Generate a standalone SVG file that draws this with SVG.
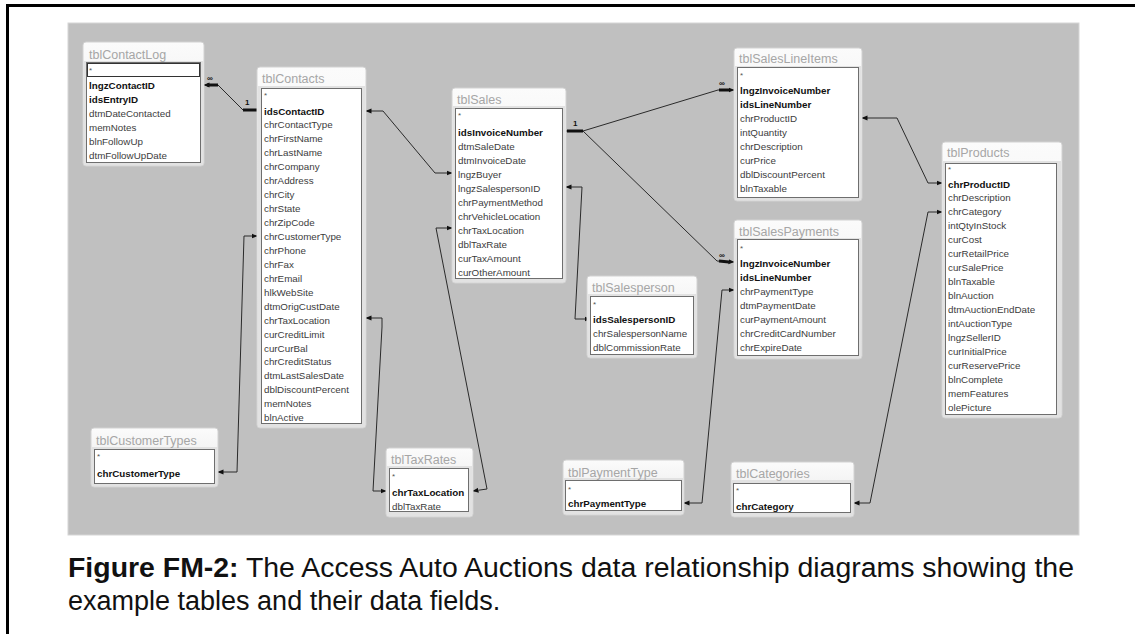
<svg xmlns="http://www.w3.org/2000/svg" width="1135" height="634" viewBox="0 0 1135 634">
  <defs>
    <linearGradient id="titleGrad" x1="0" y1="0" x2="0" y2="1">
      <stop offset="0" stop-color="#fbfbfb"/>
      <stop offset="1" stop-color="#e6e6e6"/>
    </linearGradient>
    <marker id="tip" viewBox="0 0 6 6" refX="5.5" refY="3" markerWidth="6" markerHeight="6" markerUnits="userSpaceOnUse" orient="auto-start-reverse">
      <path d="M0,0.5 L6,3 L0,5.5 Z" fill="#111"/>
    </marker>
    <style>
      .outer { fill: url(#titleGrad); stroke: #d2d2d2; stroke-width: 1; }
      .body { fill: #e2e2e2; }
      .list { fill: #ffffff; stroke: #6e6e6e; stroke-width: 1; }
      .sel { fill: none; stroke: #333; stroke-width: 1; }
      .title { font-family: "Liberation Sans", Arial, sans-serif; font-size: 12.5px; fill: #a6a6a6; }
      .f { font-family: "Liberation Sans", Arial, sans-serif; font-size: 9.8px; fill: #3c3c3c; }
      .k { font-weight: bold; fill: #111; }
      .star { font-family: "Liberation Sans", Arial, sans-serif; font-size: 8px; fill: #555; }
      .conn { fill: none; stroke: #2a2a2a; stroke-width: 1; }
      .ends { marker-start: url(#tip); marker-end: url(#tip); }
      .bar { fill: none; stroke: #111; stroke-width: 3; }
      .card { font-family: "Liberation Sans", Arial, sans-serif; font-size: 8px; font-weight: bold; fill: #111; }
      .cap { font-family: "Liberation Sans", Arial, sans-serif; font-size: 27px; fill: #111; }
    </style>
  </defs>

  <!-- page frame -->
  <rect x="0" y="0" width="1135" height="634" fill="#ffffff"/>
  <rect x="6" y="4" width="1129" height="3" fill="#000"/>
  <rect x="6" y="4" width="3" height="630" fill="#000"/>

  <!-- relationship window background -->
  <rect x="68" y="23" width="1011" height="512" fill="#c0c0c0" stroke="#d6d6d6" stroke-width="1"/>

  <!-- relationships -->
  <g id="connectors">
    <!-- tblContacts.idsContactID -> tblContactLog.lngzContactID -->
    <path class="conn" d="M257,110 L243,110 L218,85 L204,85" marker-end="url(#tip)"/>
    <path class="bar" d="M243,110 L257,110"/>
    <path class="bar" d="M207,85 L218,85"/>
    <text class="card" x="245" y="105">1</text>
    <text class="card" x="207" y="81">∞</text>

    <!-- tblContacts.idsContactID -> tblSales.lngzBuyer -->
    <path class="conn ends" d="M366,111 L383,111 L435,173 L452,173"/>

    <!-- tblContacts.chrCustomerType -> tblCustomerTypes.chrCustomerType -->
    <path class="conn ends" d="M257,236 L244,236 L237,472 L218,472"/>

    <!-- tblContacts.chrTaxLocation -> tblTaxRates.chrTaxLocation -->
    <path class="conn ends" d="M366,318 L382,318 L382,327 L373,491 L386,491"/>

    <!-- tblSales.chrTaxLocation -> tblTaxRates.chrTaxLocation -->
    <path class="conn ends" d="M452,228 L436,228 L487,489 L473,491"/>

    <!-- tblSales.idsInvoiceNumber -> tblSalesLineItems.lngzInvoiceNumber -->
    <path class="conn" d="M566,131 L583,131 L718,90 L734,90" marker-end="url(#tip)"/>
    <!-- tblSales.idsInvoiceNumber -> tblSalesPayments.lngzInvoiceNumber -->
    <path class="conn" d="M583,131 L717,261 L734,262" marker-end="url(#tip)"/>
    <path class="bar" d="M567,131 L583,131"/>
    <path class="bar" d="M719,90 L729,90"/>
    <path class="bar" d="M719,261 L729,262"/>
    <text class="card" x="573" y="126">1</text>
    <text class="card" x="719" y="86">∞</text>
    <text class="card" x="719" y="258">∞</text>

    <!-- tblSales.lngzSalespersonID -> tblSalesperson.idsSalespersonID -->
    <path class="conn ends" d="M566,187 L582,187 L575,319 L590,319"/>

    <!-- tblSalesLineItems.chrProductID -> tblProducts.chrProductID -->
    <path class="conn ends" d="M862,118 L897,118 L928,183 L942,183"/>

    <!-- tblProducts.chrCategory -> tblCategories.chrCategory -->
    <path class="conn ends" d="M942,212 L928,212 L870,503 L854,503"/>

    <!-- tblSalesPayments.chrPaymentType -> tblPaymentType.chrPaymentType -->
    <path class="conn ends" d="M734,290 L722,290 L702,503 L684,503"/>
  </g>

  <!-- tables -->
  <g id="tblContactLog">
    <rect class="outer" x="83" y="42" width="121" height="124" rx="3"/>
    <rect class="body" x="84" y="61" width="119" height="104"/>
    <text class="title" x="89" y="59">tblContactLog</text>
    <rect class="list" x="86.5" y="62.5" width="114" height="100"/>
    <rect class="sel" x="87.5" y="63.5" width="112" height="13"/>
    <text class="star" x="89" y="73">*</text>
    <text class="f k" x="89" y="88.5">lngzContactID</text>
    <text class="f k" x="89" y="102.5">idsEntryID</text>
    <text class="f" x="89" y="116.5">dtmDateContacted</text>
    <text class="f" x="89" y="130.5">memNotes</text>
    <text class="f" x="89" y="144.5">blnFollowUp</text>
    <text class="f" x="89" y="158.5">dtmFollowUpDate</text>
  </g>

  <g id="tblContacts">
    <rect class="outer" x="257" y="67" width="109" height="361" rx="3"/>
    <rect class="body" x="258" y="86" width="107" height="341"/>
    <text class="title" x="262" y="82.5">tblContacts</text>
    <rect class="list" x="261.5" y="88.5" width="100" height="335"/>
    <text class="star" x="264" y="98">*</text>
    <text class="f k" x="264" y="114.5">idsContactID</text>
    <text class="f" x="264" y="128.4">chrContactType</text>
    <text class="f" x="264" y="142.4">chrFirstName</text>
    <text class="f" x="264" y="156.3">chrLastName</text>
    <text class="f" x="264" y="170.3">chrCompany</text>
    <text class="f" x="264" y="184.2">chrAddress</text>
    <text class="f" x="264" y="198.1">chrCity</text>
    <text class="f" x="264" y="212.1">chrState</text>
    <text class="f" x="264" y="226">chrZipCode</text>
    <text class="f" x="264" y="240">chrCustomerType</text>
    <text class="f" x="264" y="253.9">chrPhone</text>
    <text class="f" x="264" y="267.8">chrFax</text>
    <text class="f" x="264" y="281.8">chrEmail</text>
    <text class="f" x="264" y="295.7">hlkWebSite</text>
    <text class="f" x="264" y="309.7">dtmOrigCustDate</text>
    <text class="f" x="264" y="323.6">chrTaxLocation</text>
    <text class="f" x="264" y="337.5">curCreditLimit</text>
    <text class="f" x="264" y="351.5">curCurBal</text>
    <text class="f" x="264" y="365.4">chrCreditStatus</text>
    <text class="f" x="264" y="379.4">dtmLastSalesDate</text>
    <text class="f" x="264" y="393.3">dblDiscountPercent</text>
    <text class="f" x="264" y="407.2">memNotes</text>
    <text class="f" x="264" y="421">blnActive</text>
  </g>

  <g id="tblSales">
    <rect class="outer" x="452" y="88" width="114" height="195" rx="3"/>
    <rect class="body" x="453" y="106" width="112" height="176"/>
    <text class="title" x="457" y="103.5">tblSales</text>
    <rect class="list" x="455.5" y="108.5" width="107" height="170"/>
    <text class="star" x="458" y="118">*</text>
    <text class="f k" x="458" y="135.5">idsInvoiceNumber</text>
    <text class="f" x="458" y="149.5">dtmSaleDate</text>
    <text class="f" x="458" y="163.5">dtmInvoiceDate</text>
    <text class="f" x="458" y="177.5">lngzBuyer</text>
    <text class="f" x="458" y="191.5">lngzSalespersonID</text>
    <text class="f" x="458" y="205.5">chrPaymentMethod</text>
    <text class="f" x="458" y="219.5">chrVehicleLocation</text>
    <text class="f" x="458" y="233.5">chrTaxLocation</text>
    <text class="f" x="458" y="247.5">dblTaxRate</text>
    <text class="f" x="458" y="261.5">curTaxAmount</text>
    <text class="f" x="458" y="275.5">curOtherAmount</text>
  </g>

  <g id="tblSalesLineItems">
    <rect class="outer" x="734" y="48" width="128" height="153" rx="3"/>
    <rect class="body" x="735" y="66" width="126" height="134"/>
    <text class="title" x="739" y="62.5">tblSalesLineItems</text>
    <rect class="list" x="737.5" y="67.5" width="121" height="130"/>
    <text class="star" x="740" y="78">*</text>
    <text class="f k" x="740" y="93.5">lngzInvoiceNumber</text>
    <text class="f k" x="740" y="107.5">idsLineNumber</text>
    <text class="f" x="740" y="121.5">chrProductID</text>
    <text class="f" x="740" y="135.5">intQuantity</text>
    <text class="f" x="740" y="149.5">chrDescription</text>
    <text class="f" x="740" y="163.5">curPrice</text>
    <text class="f" x="740" y="177.5">dblDiscountPercent</text>
    <text class="f" x="740" y="191.5">blnTaxable</text>
  </g>

  <g id="tblSalesPayments">
    <rect class="outer" x="734" y="220" width="128" height="139" rx="3"/>
    <rect class="body" x="735" y="238" width="126" height="120"/>
    <text class="title" x="739" y="235.5">tblSalesPayments</text>
    <rect class="list" x="737.5" y="239.5" width="121" height="116"/>
    <text class="star" x="740" y="251">*</text>
    <text class="f k" x="740" y="266.5">lngzInvoiceNumber</text>
    <text class="f k" x="740" y="280.5">idsLineNumber</text>
    <text class="f" x="740" y="294.5">chrPaymentType</text>
    <text class="f" x="740" y="308.5">dtmPaymentDate</text>
    <text class="f" x="740" y="322.5">curPaymentAmount</text>
    <text class="f" x="740" y="336.5">chrCreditCardNumber</text>
    <text class="f" x="740" y="350.5">chrExpireDate</text>
  </g>

  <g id="tblProducts">
    <rect class="outer" x="942" y="142" width="120" height="276" rx="3"/>
    <rect class="body" x="943" y="161" width="118" height="256"/>
    <text class="title" x="947" y="156.5">tblProducts</text>
    <rect class="list" x="945.5" y="163.5" width="111" height="251"/>
    <text class="star" x="948" y="172">*</text>
    <text class="f k" x="948" y="187.5">chrProductID</text>
    <text class="f" x="948" y="201.4">chrDescription</text>
    <text class="f" x="948" y="215.4">chrCategory</text>
    <text class="f" x="948" y="229.3">intQtyInStock</text>
    <text class="f" x="948" y="243.3">curCost</text>
    <text class="f" x="948" y="257.2">curRetailPrice</text>
    <text class="f" x="948" y="271.1">curSalePrice</text>
    <text class="f" x="948" y="285.1">blnTaxable</text>
    <text class="f" x="948" y="299">blnAuction</text>
    <text class="f" x="948" y="313">dtmAuctionEndDate</text>
    <text class="f" x="948" y="326.9">intAuctionType</text>
    <text class="f" x="948" y="340.8">lngzSellerID</text>
    <text class="f" x="948" y="354.8">curInitialPrice</text>
    <text class="f" x="948" y="368.7">curReservePrice</text>
    <text class="f" x="948" y="382.7">blnComplete</text>
    <text class="f" x="948" y="396.6">memFeatures</text>
    <text class="f" x="948" y="410.5">olePicture</text>
  </g>

  <g id="tblSalesperson">
    <rect class="outer" x="587" y="276" width="110" height="82" rx="3"/>
    <rect class="body" x="588" y="294" width="108" height="63"/>
    <text class="title" x="592" y="291.5">tblSalesperson</text>
    <rect class="list" x="590.5" y="296.5" width="103" height="58"/>
    <text class="star" x="593" y="307">*</text>
    <text class="f k" x="593" y="322.5">idsSalespersonID</text>
    <text class="f" x="593" y="336.5">chrSalespersonName</text>
    <text class="f" x="593" y="350.5">dblCommissionRate</text>
  </g>

  <g id="tblCustomerTypes">
    <rect class="outer" x="91" y="428" width="127" height="59" rx="3"/>
    <rect class="body" x="92" y="447" width="125" height="39"/>
    <text class="title" x="96" y="444.5">tblCustomerTypes</text>
    <rect class="list" x="94.5" y="449.5" width="120" height="34"/>
    <text class="star" x="97" y="459">*</text>
    <text class="f k" x="97" y="476.5">chrCustomerType</text>
  </g>

  <g id="tblTaxRates">
    <rect class="outer" x="386" y="448" width="87" height="69" rx="3"/>
    <rect class="body" x="387" y="466" width="85" height="50"/>
    <text class="title" x="391" y="463.5">tblTaxRates</text>
    <rect class="list" x="389.5" y="468.5" width="79" height="43"/>
    <text class="star" x="392" y="479">*</text>
    <text class="f k" x="392" y="495.5">chrTaxLocation</text>
    <text class="f" x="392" y="509.5">dblTaxRate</text>
  </g>

  <g id="tblPaymentType">
    <rect class="outer" x="563" y="460" width="121" height="55" rx="3"/>
    <rect class="body" x="564" y="478" width="119" height="36"/>
    <text class="title" x="568" y="476.5">tblPaymentType</text>
    <rect class="list" x="565.5" y="480.5" width="116" height="30"/>
    <text class="star" x="568" y="492">*</text>
    <text class="f k" x="568" y="506.5">chrPaymentType</text>
  </g>

  <g id="tblCategories">
    <rect class="outer" x="731" y="462" width="123" height="55" rx="3"/>
    <rect class="body" x="732" y="480" width="121" height="36"/>
    <text class="title" x="736" y="477.5">tblCategories</text>
    <rect class="list" x="733.5" y="483.5" width="117" height="29"/>
    <text class="star" x="736" y="493">*</text>
    <text class="f k" x="736" y="509.5">chrCategory</text>
  </g>

  <!-- caption -->
  <g id="caption">
    <text class="cap" x="68" y="577" textLength="1006" lengthAdjust="spacingAndGlyphs"><tspan font-weight="bold">Figure FM-2:</tspan> The Access Auto Auctions data relationship diagrams showing the</text>
    <text class="cap" x="68" y="610">example tables and their data fields.</text>
  </g>
</svg>
